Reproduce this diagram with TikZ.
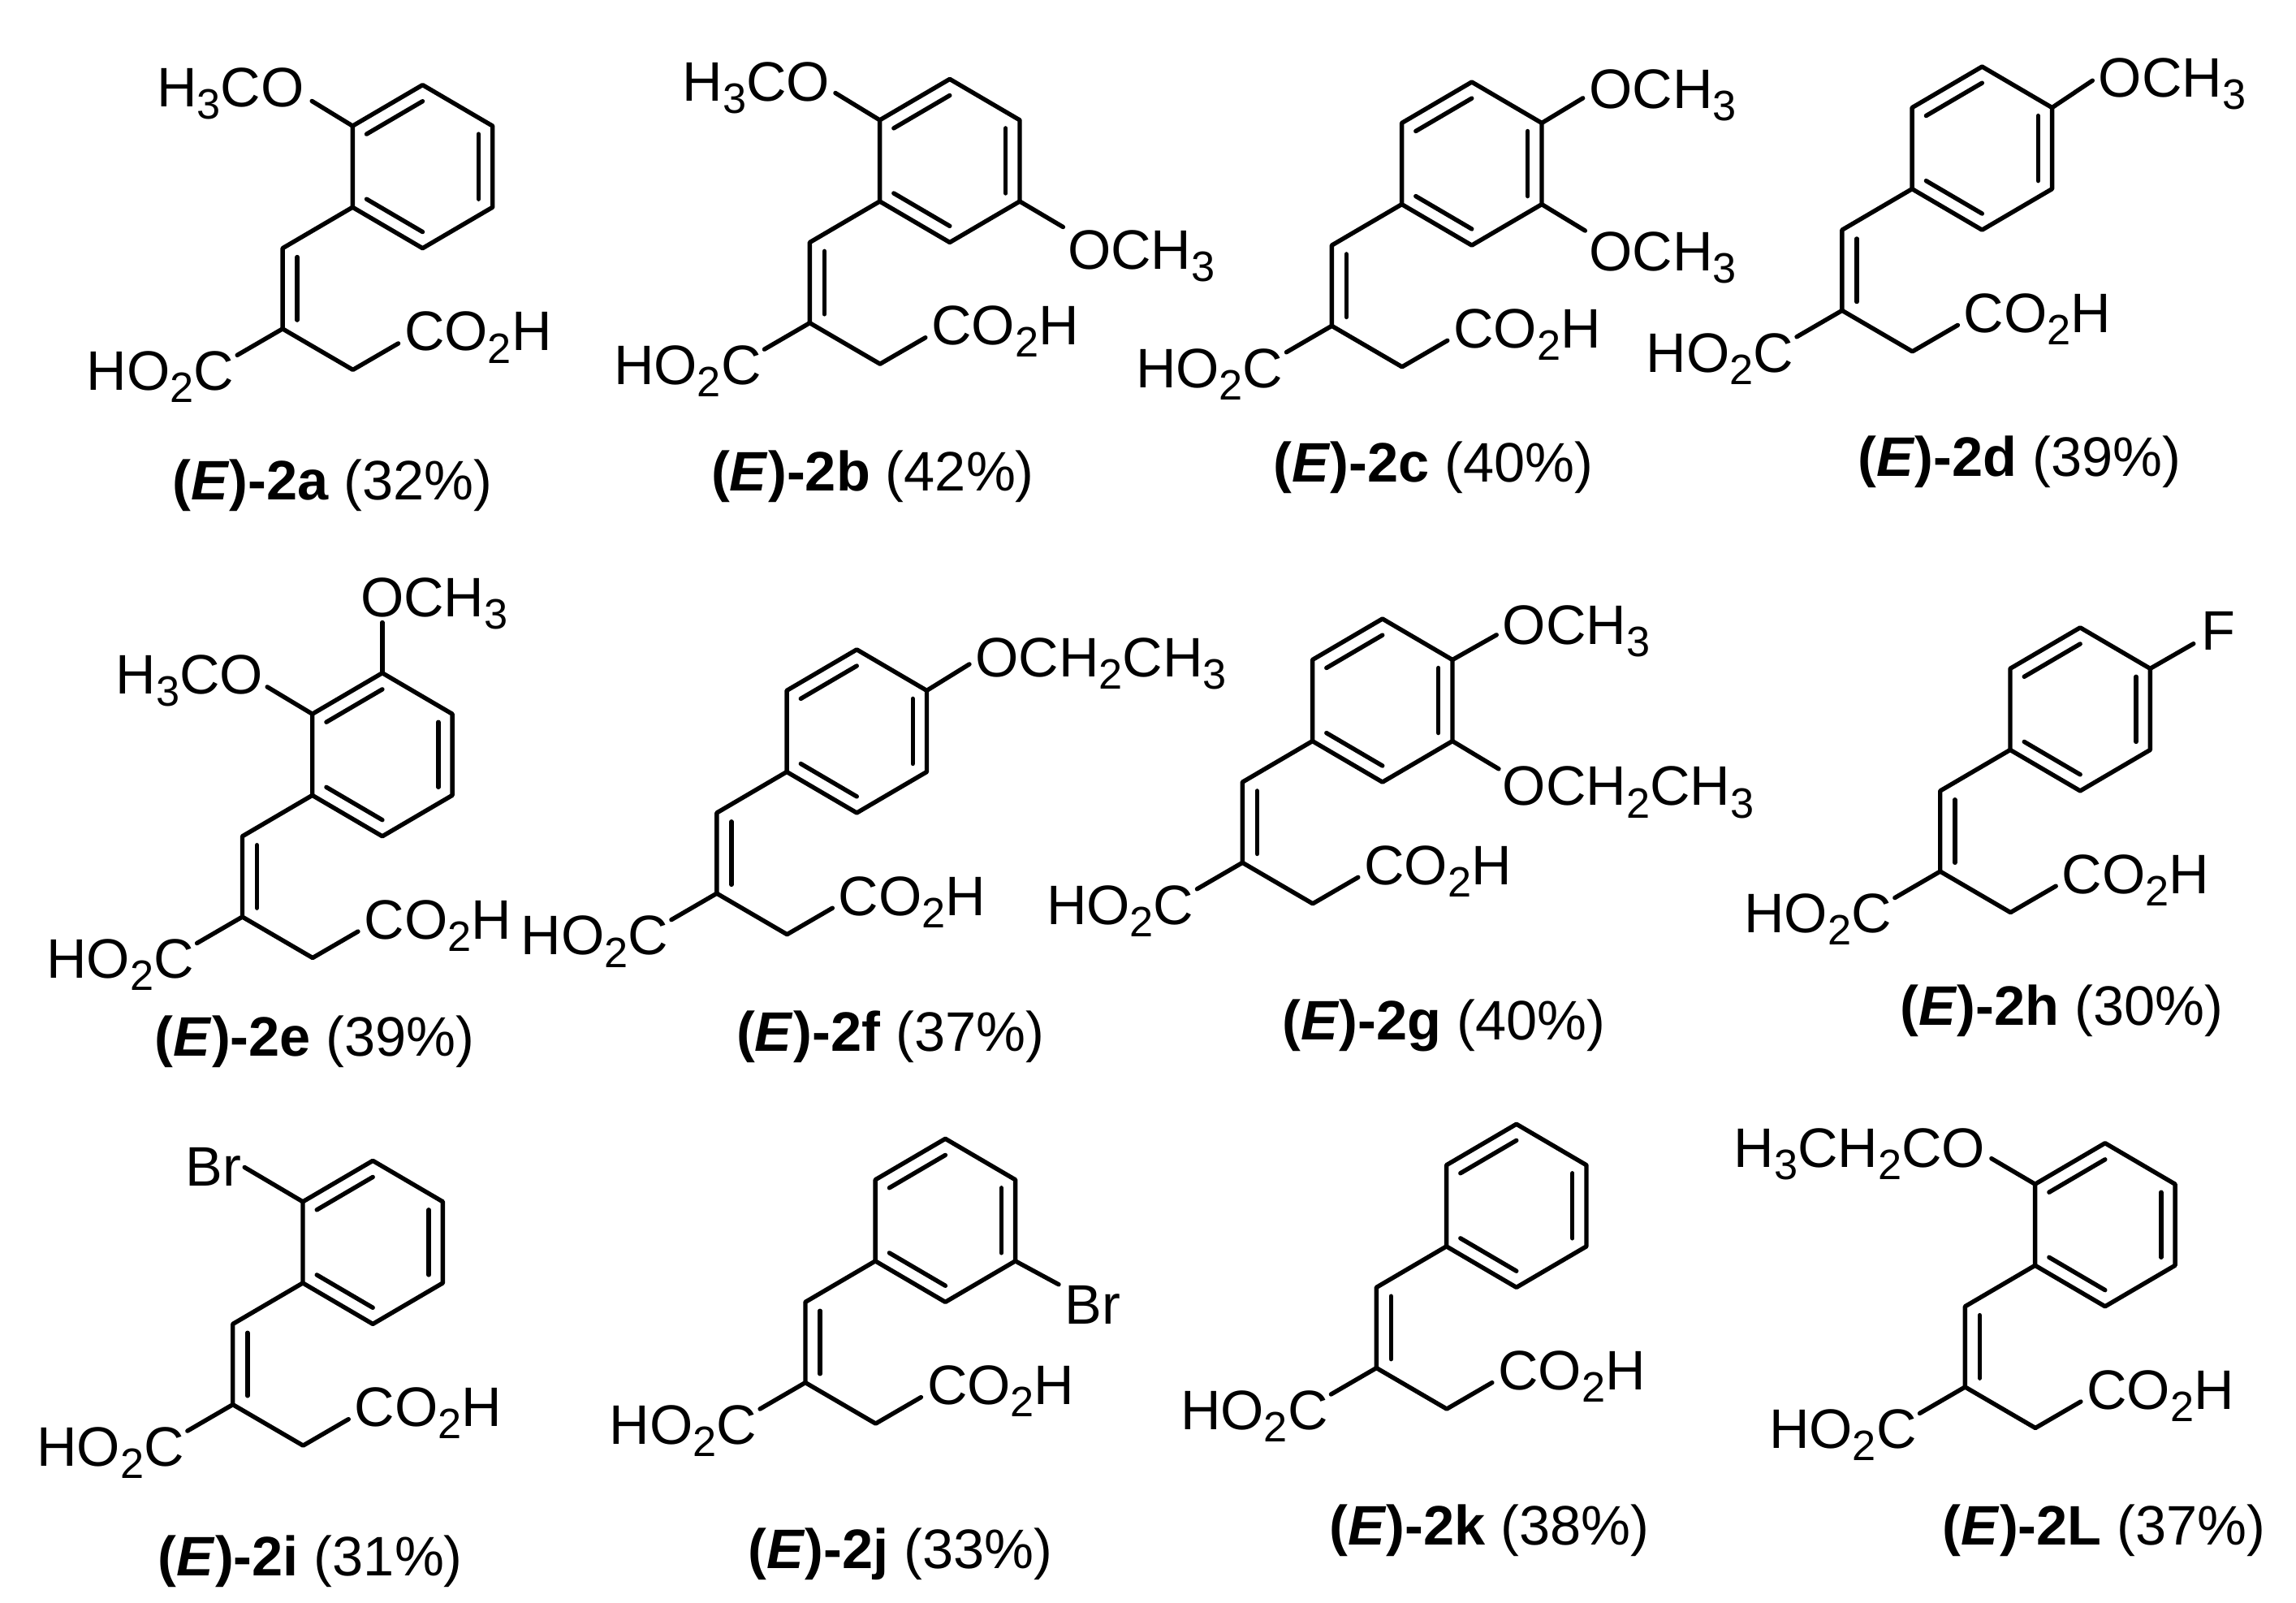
\documentclass[tikz,border=0pt]{standalone}
\usepackage{fontspec}
\setmainfont{Liberation Sans}
\usetikzlibrary{calc}
\newcommand{\lowd}[1]{\raisebox{-0.22em}{\fontsize{29}{29}\selectfont #1}}
\tikzset{x=1pt,y=-1pt,
  bond/.style={line width=3pt,line cap=round,line join=round},
  inner/.style={line width=3pt,line cap=round},
  atom/.style={inner sep=0pt,font=\fontsize{38}{38}\selectfont,text=black},
  captext/.style={inner sep=0pt,font=\fontsize{38}{38}\selectfont,text=black,anchor=base}}
% #1 prefix, #2 x, #3 y of lower alkene carbon, #4 caption x, #5 caption y, #6 caption id, #7 yield
\newcommand{\skeleton}[7]{%
  \coordinate (#1o) at (#2,#3);
  \coordinate (#1t) at ($(#1o)+(0,-55)$);
  \coordinate (#1ch) at ($(#1o)+(48,28)$);
  \coordinate (#1p1) at ($(#1o)+(47.8,-83)$);
  \coordinate (#1p2) at ($(#1o)+(47.8,-138.5)$);
  \coordinate (#1p3) at ($(#1o)+(95.6,-166.5)$);
  \coordinate (#1p4) at ($(#1o)+(143.4,-138.5)$);
  \coordinate (#1p5) at ($(#1o)+(143.4,-83)$);
  \coordinate (#1p6) at ($(#1o)+(95.6,-55)$);
  \coordinate (#1c) at ($(#1o)+(95.6,-110.75)$);
  \node[atom,anchor=base east] (#1ha) at ($(#1o)+(-33,42)$) {HO\lowd{2}C};
  \node[atom,anchor=base west] (#1hb) at ($(#1o)+(83,15)$) {CO\lowd{2}H};
  \coordinate (#1hae) at ($(#1o)+(-31,18)$);
  \coordinate (#1hbe) at ($(#1o)+(79,10)$);
  \draw[bond] (#1hae) -- (#1o) -- (#1ch) -- (#1hbe);
  \draw[bond] (#1o) -- (#1t) -- (#1p1);
  \draw[inner] ($(#1o)+(10,-6)$) -- ($(#1t)+(10,6)$);
  \draw[bond] (#1p1) -- (#1p2) -- (#1p3) -- (#1p4) -- (#1p5) -- (#1p6) -- cycle;
  \dbl{#1}{p2}{p3}\dbl{#1}{p4}{p5}\dbl{#1}{p6}{p1}
  \node[captext] (#1cap) at (#4,#5) {\textbf{(\textit{E})-2#6} (#7\%)};
}
% #1 prefix, #2 first vertex, #3 second vertex: inner ring double bond
\newcommand{\dbl}[3]{\draw[inner] ($(#1#2)!0.2!(#1c)$) -- ($(#1#3)!0.2!(#1c)$);}
\begin{document}
\begin{tikzpicture}
\useasboundingbox (0,0) rectangle (1568,1094);
% a
\skeleton{a}{193}{224.5}{227}{341}{a}{32}
\node[atom,anchor=base east] (aL) at (208,73) {H\lowd{3}CO};
\coordinate (ae) at (213,69); \draw[bond] (ae) -- (ap2);
% b
\skeleton{b}{553}{220.5}{596}{335}{b}{42}
\node[atom,anchor=base east] (bL) at (567,69) {H\lowd{3}CO};
\coordinate (be) at (570.5,63.5); \draw[bond] (be) -- (bp2);
\node[atom,anchor=base west] (bR) at (729,184) {OCH\lowd{3}};
\coordinate (bf) at (726,155); \draw[bond] (bp5) -- (bf);
% c
\skeleton{c}{909.5}{222.5}{979}{329}{c}{40}
\node[atom,anchor=base west] (cR1) at (1085,74) {OCH\lowd{3}};
\coordinate (ce) at (1081,67); \draw[bond] (cp4) -- (ce);
\node[atom,anchor=base west] (cR2) at (1085,185) {OCH\lowd{3}};
\coordinate (cf) at (1082.5,157.5); \draw[bond] (cp5) -- (cf);
% d
\skeleton{d}{1258}{212}{1379}{325}{d}{39}
\node[atom,anchor=base west] (dR) at (1433,66) {OCH\lowd{3}};
\coordinate (de) at (1429,55); \draw[bond] (dp4) -- (de);
% e
\skeleton{e}{165.5}{626}{215}{721}{e}{39}
\node[atom,anchor=base east] (eL) at (180,474) {H\lowd{3}CO};
\coordinate (ee) at (182.5,469); \draw[bond] (ee) -- (ep2);
\node[atom,anchor=base west] (eR) at (246,421) {OCH\lowd{3}};
\coordinate (ef) at (261.1,425); \draw[bond] (ep3) -- (ef);
% f
\skeleton{f}{489.5}{610}{608}{718}{f}{37}
\node[atom,anchor=base west] (fR) at (666,462) {OCH\lowd{2}CH\lowd{3}};
\coordinate (fe) at (662,453.5); \draw[bond] (fp4) -- (fe);
% g
\skeleton{g}{848.5}{589}{986}{710}{g}{40}
\node[atom,anchor=base west] (gR1) at (1026,440) {OCH\lowd{3}};
\coordinate (ge) at (1022,433.5); \draw[bond] (gp4) -- (ge);
\node[atom,anchor=base west] (gR2) at (1026,550) {OCH\lowd{2}CH\lowd{3}};
\coordinate (gf) at (1023.5,525); \draw[bond] (gp5) -- (gf);
% h
\skeleton{h}{1325}{595}{1408}{700}{h}{30}
\node[atom,anchor=base west] (hR) at (1503,444) {F};
\coordinate (he) at (1498,439.5); \draw[bond] (hp4) -- (he);
% i
\skeleton{i}{159}{959}{212}{1076}{i}{31}
\node[atom,anchor=base east] (iL) at (165,810) {Br};
\coordinate (ie) at (167,797); \draw[bond] (ie) -- (ip2);
% j
\skeleton{j}{550}{944}{615}{1071}{j}{33}
\node[atom,anchor=base west] (jR) at (727,904) {Br};
\coordinate (je) at (723,877); \draw[bond] (jp5) -- (je);
% k
\skeleton{k}{940}{934}{1017}{1055}{k}{38}
% L
\skeleton{L}{1342}{947}{1437}{1055}{L}{37}
\node[atom,anchor=base east] (LL) at (1356,797) {H\lowd{3}CH\lowd{2}CO};
\coordinate (Le) at (1360,791); \draw[bond] (Le) -- (Lp2);
\end{tikzpicture}
\end{document}
